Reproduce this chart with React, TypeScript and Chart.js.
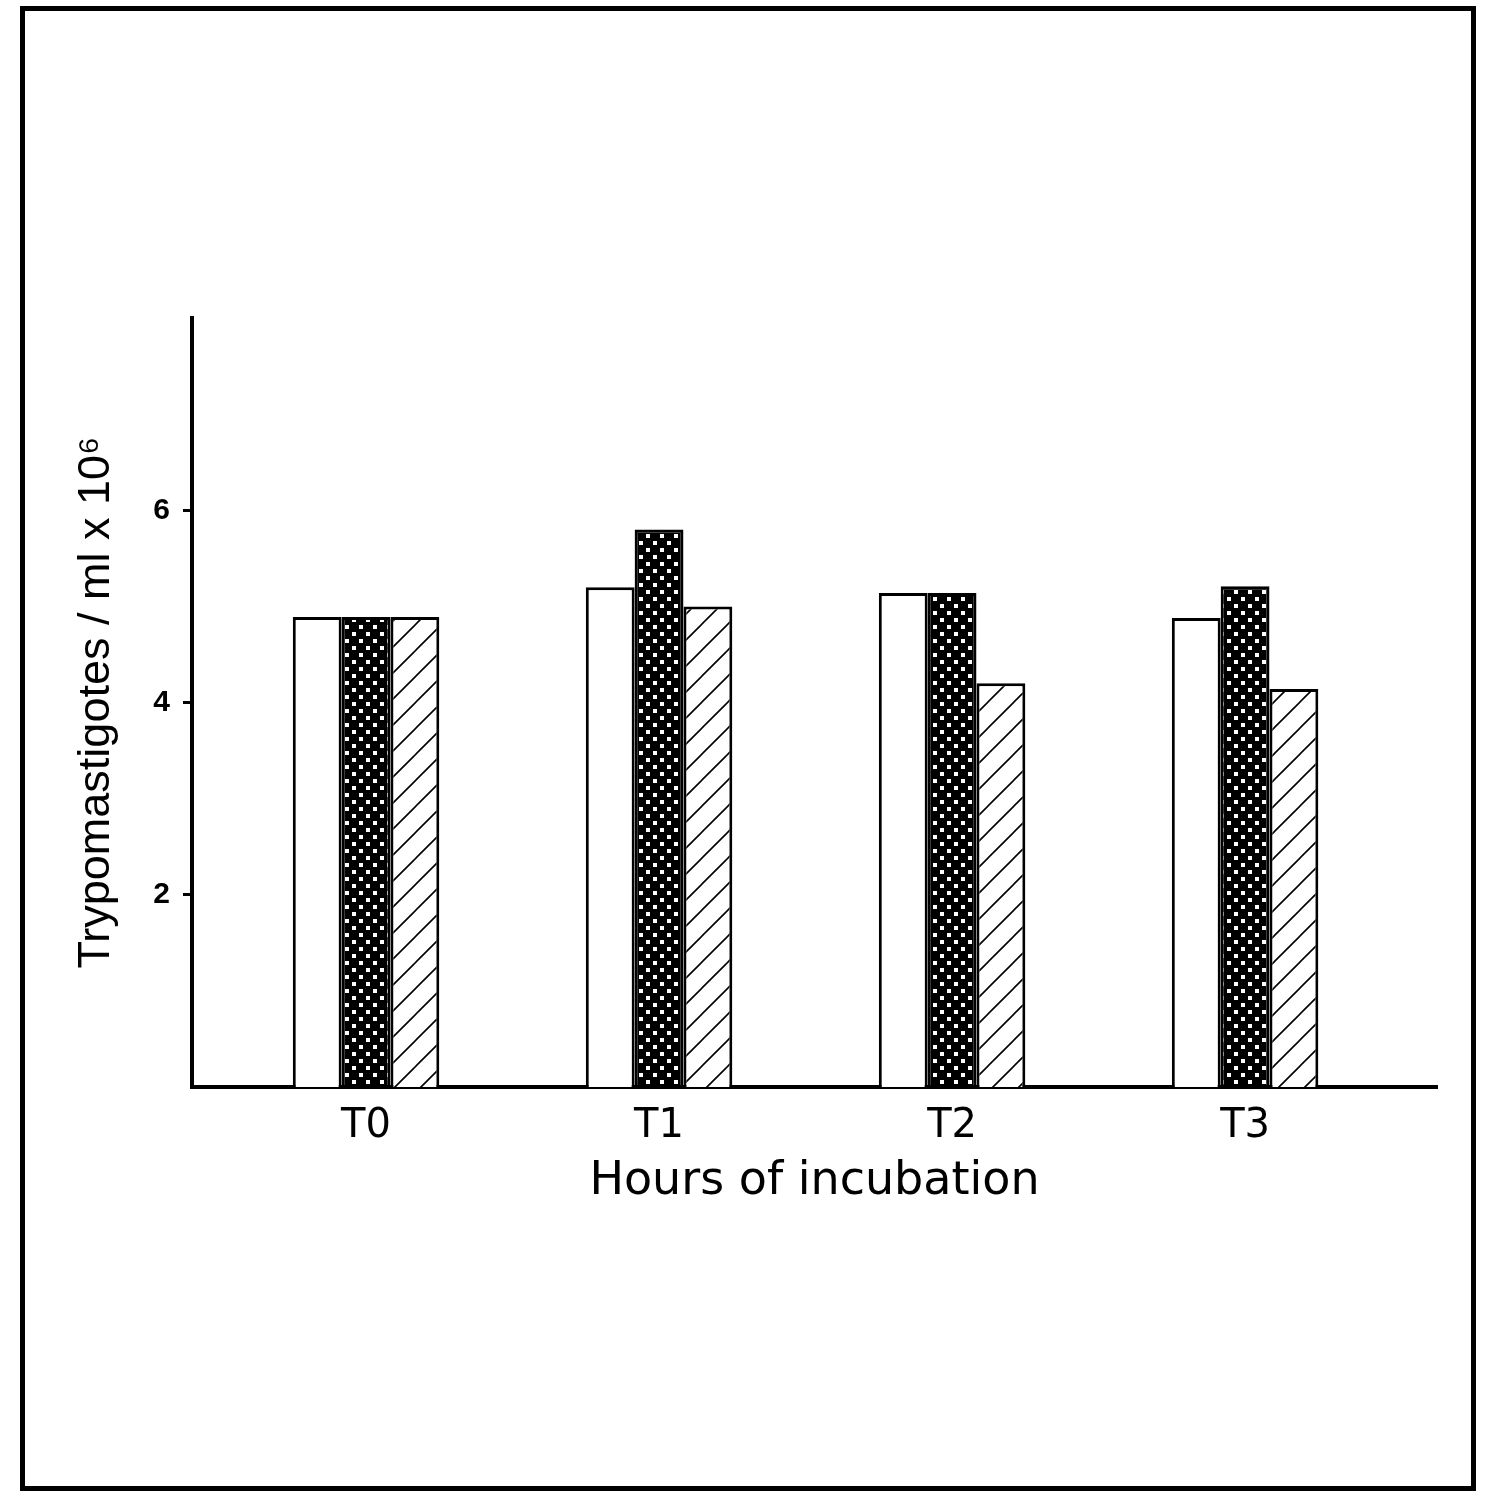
import { useEffect, useRef } from "react";
import { Chart, registerables } from "chart.js";

Chart.register(...registerables);

const categories = ["T0", "T1", "T2", "T3"];
const seriesOpen = [4.89, 5.2, 5.14, 4.88];
const seriesDotted = [4.89, 5.8, 5.14, 5.21];
const seriesHatched = [4.89, 5.0, 4.2, 4.14];
const yTickValues = [2, 4, 6];
const yMin = 0;
const yMax = 8;
const xMin = -0.594;
const xMax = 3.655;

function makeDotPattern(): CanvasPattern | string {
  const c = document.createElement("canvas");
  c.width = 14;
  c.height = 14;
  const g = c.getContext("2d");
  if (!g) return "#222";
  g.fillStyle = "#000";
  g.fillRect(0, 0, 14, 14);
  g.fillStyle = "#fff";
  g.fillRect(2, 2, 4, 4);
  g.fillRect(9, 9, 4, 4);
  return g.createPattern(c, "repeat") || "#222";
}

function makeHatchPattern(): CanvasPattern | string {
  const s = 26;
  const c = document.createElement("canvas");
  c.width = s;
  c.height = s;
  const g = c.getContext("2d");
  if (!g) return "#fff";
  g.fillStyle = "#fff";
  g.fillRect(0, 0, s, s);
  g.strokeStyle = "#000";
  g.lineWidth = 1.6;
  g.beginPath();
  g.moveTo(0, s);
  g.lineTo(s, 0);
  g.moveTo(-3, 3);
  g.lineTo(3, -3);
  g.moveTo(s - 3, s + 3);
  g.lineTo(s + 3, s - 3);
  g.stroke();
  return g.createPattern(c, "repeat") || "#fff";
}

export default function App() {
  const ref = useRef<HTMLCanvasElement | null>(null);

  useEffect(() => {
    const canvas = ref.current;
    if (!canvas) return;
    const dot = makeDotPattern();
    const hatch = makeHatchPattern();
    const toPoints = (vals: number[]) => vals.map((v, i) => ({ x: i, y: v }));
    const common = {
      borderColor: "#000",
      borderWidth: 3,
      categoryPercentage: 0.5,
      barPercentage: 1.0,
    };
    const chart = new Chart(canvas, {
      type: "bar",
      data: {
        datasets: [
          { label: "Open", data: toPoints(seriesOpen), backgroundColor: "#fff", ...common },
          { label: "Stippled", data: toPoints(seriesDotted), backgroundColor: dot as any, ...common },
          { label: "Hatched", data: toPoints(seriesHatched), backgroundColor: hatch as any, ...common },
        ],
      },
      options: {
        animation: false,
        responsive: false,
        maintainAspectRatio: false,
        layout: { padding: { left: 0, top: 318, right: 50, bottom: 297 } },
        plugins: { legend: { display: false }, tooltip: { enabled: false } },
        scales: {
          x: {
            type: "linear",
            min: xMin,
            max: xMax,
            offset: false,
            afterBuildTicks: (scale: any) => {
              scale.ticks = categories.map((_, i) => ({ value: i }));
            },
            afterFit: (scale: any) => {
              scale.height = 123;
            },
            grid: {
              display: false,
              offset: false,
              drawOnChartArea: false,
              drawTicks: false,
            },
            border: { display: true, color: "#000", width: 4 },
            ticks: {
              padding: 16,
              autoSkip: false,
              maxRotation: 0,
              color: "#000",
              font: { family: "DejaVu Sans", size: 40, lineHeight: 1.2 },
              callback: (v: any) => {
                const i = Number(v);
                return Number.isInteger(i) && categories[i] !== undefined ? categories[i] : "";
              },
            },
            title: {
              display: true,
              text: "Hours of incubation",
              color: "#000",
              padding: { top: 0, bottom: 0 },
              font: { family: "DejaVu Sans", size: 46, lineHeight: 1.2 },
            },
          },
          y: {
            type: "linear",
            min: yMin,
            max: yMax,
            afterBuildTicks: (scale: any) => {
              scale.ticks = yTickValues.map((v) => ({ value: v }));
            },
            afterFit: (scale: any) => {
              scale.width = 192;
            },
            grid: {
              display: true,
              drawOnChartArea: false,
              drawTicks: true,
              tickLength: 9,
              lineWidth: 3,
              color: "#000",
            },
            border: { display: true, color: "#000", width: 4 },
            ticks: {
              padding: 13,
              color: "#000",
              font: { family: "Liberation Sans", size: 30, weight: "bold" },
            },
            title: {
              display: true,
              text: "Trypomastigotes / ml x 10\u2076",
              color: "#000",
              padding: { top: 70, bottom: 0 },
              font: { family: "Liberation Sans", size: 45, lineHeight: 1.2 },
            },
          },
        },
      } as any,
    });
    return () => chart.destroy();
  }, []);

  return (
    <div style={{ position: "absolute", left: 0, top: 0, width: 1487, height: 1507, background: "#fff", overflow: "hidden" }}>
      <div
        style={{
          position: "absolute",
          left: 20,
          top: 6,
          width: 1456,
          height: 1485,
          boxSizing: "border-box",
          border: "5px solid #000",
        }}
      />
      <canvas
        ref={ref}
        width={1487}
        height={1507}
        style={{ position: "absolute", left: 0, top: 0, width: 1487, height: 1507 }}
      />
    </div>
  );
}
